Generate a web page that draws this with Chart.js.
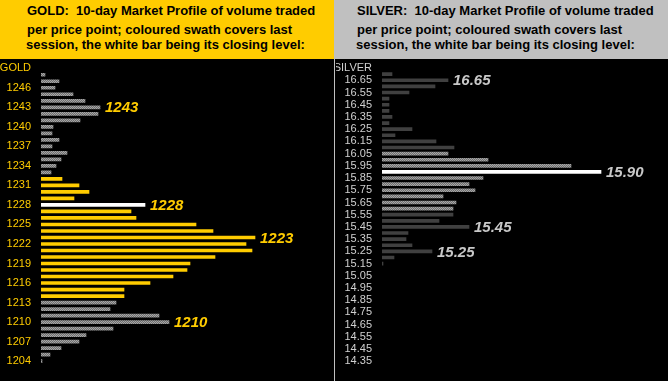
<!DOCTYPE html>
<html><head><meta charset="utf-8">
<script src="https://cdn.jsdelivr.net/npm/chart.js@4/dist/chart.umd.min.js"></script>
<style>
html,body{margin:0;padding:0;background:#000;width:668px;height:381px;overflow:hidden;}
#wrap{position:relative;width:668px;height:381px;background:#000;}
.hdr{position:absolute;top:0;height:59px;}
.ln{position:absolute;font:bold 13px "Liberation Sans",Arial,sans-serif;color:#000;white-space:pre;line-height:13px;}
.cv{position:absolute;top:0;}
</style></head>
<body>
<div id="wrap">
  <div class="hdr" style="left:0;width:334px;background:#FFCC00;"></div>
  <div class="hdr" style="left:334px;width:334px;background:#C0C0C0;"></div>
  <div class="ln" style="left:27px;top:4px;">GOLD:  10-day Market Profile of volume traded</div>
  <div class="ln" style="left:27px;top:23px;">per price point; coloured swath covers last</div>
  <div class="ln" style="left:26px;top:38px;">session, the white bar being its closing level:</div>
  <div class="ln" style="left:357px;top:4px;">SILVER:  10-day Market Profile of volume traded</div>
  <div class="ln" style="left:357px;top:23px;">per price point; coloured swath covers last</div>
  <div class="ln" style="left:356px;top:38px;">session, the white bar being its closing level:</div>
  <div style="position:absolute;left:334px;top:59px;width:1px;height:322px;background:#C0C0C0;"></div>
  <canvas id="gold" class="cv" style="left:0;" width="334" height="381"></canvas>
  <canvas id="silver" class="cv" style="left:336px;" width="332" height="381"></canvas>
</div>
<script>
// ---------- GOLD ----------
const goldLevels = [1248,1247,1246,1245,1244,1243,1242,1241,1240,1239,1238,1237,1236,1235,1234,1233,1232,1231,1230,1229,1228,1227,1226,1225,1224,1223,1222,1221,1220,1219,1218,1217,1216,1215,1214,1213,1212,1211,1210,1209,1208,1207,1206,1205,1204];
const goldVolume = [4,18,14,32,44,59,57,39,12,11,18,11,26,20,15,10,21,38,48,33,104,90,95,155,172,214,205,211,174,149,146,132,109,83,83,75,69,118,128,72,45,38,20,9,1];
const goldTicks = ['GOLD','1246','1243','1240','1237','1234','1231','1228','1225','1222','1219','1216','1213','1210','1207','1204'];
const goldSwath = [1214, 1232];   // last session range
const goldClose = 1228;
const goldCallouts = [1243, 1228, 1223, 1210];

// ---------- SILVER ----------
const silverLevels = [16.70,16.65,16.60,16.55,16.50,16.45,16.40,16.35,16.30,16.25,16.20,16.15,16.10,16.05,16.00,15.95,15.90,15.85,15.80,15.75,15.70,15.65,15.60,15.55,15.50,15.45,15.40,15.35,15.30,15.25,15.20,15.15,15.10,15.05,15.00,14.95,14.90,14.85,14.80,14.75,14.70,14.65,14.60,14.55,14.50,14.45,14.40,14.35];
const silverVolume = [10,66,53,27,7,7,7,10,7,30,13,54,72,66,106,189,219,101,87,93,61,74,71,71,57,87,26,24,30,50,12,1,null,null,null,null,null,null,null,null,null,null,null,null,null,null,null,null];
const silverTicks = ['SILVER','16.65','16.55','16.45','16.35','16.25','16.15','16.05','15.95','15.85','15.75','15.65','15.55','15.45','15.35','15.25','15.15','15.05','14.95','14.85','14.75','14.65','14.55','14.45','14.35'];
const silverSwath = [15.60, 16.05];
const silverClose = 15.90;
const silverCallouts = [16.65, 15.90, 15.45, 15.25];

function checker(a, b) {
  const c = document.createElement('canvas'); c.width = 2; c.height = 2;
  const x = c.getContext('2d');
  x.fillStyle = a; x.fillRect(0, 0, 2, 2);
  x.fillStyle = b; x.fillRect(0, 0, 1, 1); x.fillRect(1, 1, 1, 1);
  return x.createPattern(c, 'repeat');
}
const dither = checker('#6f6f6f', '#a6a6a6');

function calloutPlugin(levels, callouts, color, fmt) {
  return {
    id: 'callouts',
    afterDatasetsDraw(chart) {
      const ctx = chart.ctx;
      const meta = chart.getDatasetMeta(0);
      ctx.save();
      ctx.font = 'italic bold 15px "Liberation Sans", Arial, sans-serif';
      ctx.fillStyle = color;
      ctx.textAlign = 'left';
      ctx.textBaseline = 'middle';
      callouts.forEach(v => {
        const i = levels.indexOf(v);
        const el = meta.data[i + 1];
        if (el) ctx.fillText(fmt(v), el.x + 5, el.y + 1);
      });
      ctx.restore();
    }
  };
}

function makeChart(id, head, levels, volume, tickList, swath, close, callouts, opts) {
  const labels = [head].concat(levels.map(opts.fmt));
  const data = [null].concat(volume);
  const colors = [null].concat(levels.map(l => {
    if (Math.abs(l - close) < 1e-6) return '#FFFFFF';
    if (l >= swath[0] - 1e-6 && l <= swath[1] + 1e-6) return opts.swathColor;
    return opts.otherColor;
  }));
  const shown = new Set(tickList);
  return new Chart(document.getElementById(id), {
    type: 'bar',
    data: { labels, datasets: [{ data, backgroundColor: colors, borderWidth: 0, barThickness: 3 }] },
    options: {
      responsive: false, animation: false, indexAxis: 'y',
      layout: { padding: { top: 65, bottom: 5, left: 0, right: opts.right } },
      plugins: { legend: { display: false }, tooltip: { enabled: false } },
      scales: {
        x: { display: false, min: 0, max: opts.max },
        y: {
          grid: { display: false, drawTicks: false, tickLength: 0 }, border: { display: false },
          afterFit(s) { s.width = opts.axisW; },
          ticks: {
            autoSkip: false, padding: 10, color: opts.tickColor,
            font: { family: '"Liberation Sans", Arial, sans-serif', size: 11 },
            callback: function (v) { const l = this.getLabelForValue(v); return shown.has(l) ? l : ''; }
          }
        }
      }
    },
    plugins: [calloutPlugin(levels, callouts, opts.calloutColor, opts.fmt)]
  });
}

makeChart('gold', 'GOLD', goldLevels, goldVolume, goldTicks, goldSwath, goldClose, goldCallouts, {
  fmt: v => String(v), swathColor: '#FFCC00', otherColor: dither, tickColor: '#FFCC00',
  calloutColor: '#FFCC00', axisW: 41, max: 290, right: 3
});
makeChart('silver', 'SILVER', silverLevels, silverVolume, silverTicks, silverSwath, silverClose, silverCallouts, {
  fmt: v => v.toFixed(2), swathColor: dither, otherColor: '#404040', tickColor: '#D0D0D0',
  calloutColor: '#C8C8C8', axisW: 46, max: 284, right: 2
});
</script>
</body></html>
